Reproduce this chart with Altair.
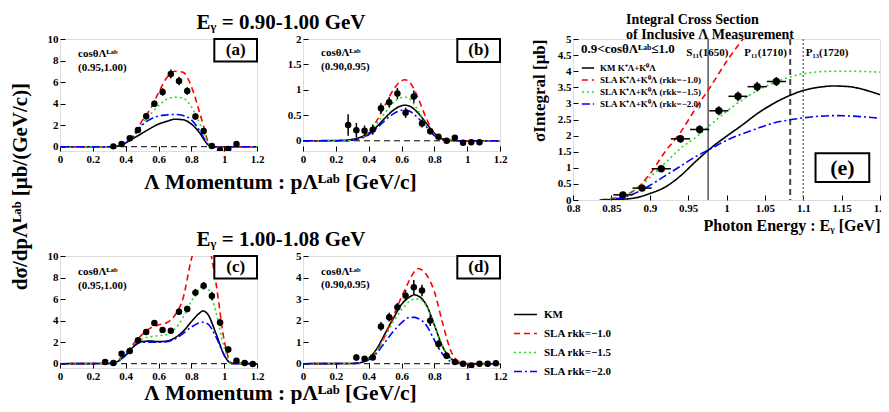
import altair as alt
import pandas as pd

FONT = "Liberation Serif"

MODELS = ["KM", "SLA rkk=−1.0", "SLA rkk=−1.5", "SLA rkk=−2.0"]
MODELS_E = ["KM  K⁺Λ+K⁰Λ", "SLA  K⁺Λ+K⁰Λ (rkk=−1.0)", "SLA  K⁺Λ+K⁰Λ (rkk=−1.5)", "SLA  K⁺Λ+K⁰Λ (rkk=−2.0)"]
COLORS = ["#000000", "#ff0000", "#22dd22", "#0000ff"]
DASHES = [[1, 0], [6, 4], [2, 3], [8, 3, 2, 3]]

# ---------------- panel (a) ----------------
A_BIN = [0.325, 0.375, 0.425, 0.475, 0.525, 0.575, 0.625, 0.675, 0.725, 0.775, 0.825, 0.875, 0.925, 0.975, 1.025, 1.075]
A_VAL = [0.03, 0.25, 0.78, 1.55, 2.83, 3.99, 5.08, 6.76, 6.1, 5.17, 2.8, 1.46, 0.06, -0.34, -0.22, 0.25]
A_ERR = [0.15, 0.2, 0.2, 0.25, 0.3, 0.3, 0.35, 0.4, 0.4, 0.35, 0.3, 0.25, 0.15, 0.15, 0.15, 0.2]
A_CX = [0, 0.3, 0.35, 0.4, 0.45, 0.5, 0.55, 0.6, 0.65, 0.7, 0.75, 0.8, 0.85, 0.88, 0.9, 0.92, 0.95, 1.2]
A_KM = [0, 0, 0.05, 0.35, 0.8, 1.25, 1.7, 2.1, 2.35, 2.55, 2.5, 2.1, 1.3, 0.6, 0.2, 0.02, 0, 0]
A_R10 = [0, 0, 0.05, 0.4, 1.2, 2.4, 3.5, 5.0, 6.4, 7.0, 6.9, 5.6, 3.2, 1.6, 0.5, 0.05, 0, 0]
A_R15 = [0, 0, 0.04, 0.35, 1.1, 2.1, 3.0, 3.8, 4.4, 4.6, 4.5, 3.7, 2.2, 1.1, 0.35, 0.03, 0, 0]
A_R20 = [0, 0, 0.04, 0.35, 1.0, 2.0, 2.55, 2.85, 2.95, 3.0, 2.9, 2.5, 1.5, 0.7, 0.2, 0.02, 0, 0]

# ---------------- panel (b) ----------------
B_BIN = [0.275, 0.325, 0.375, 0.425, 0.475, 0.525, 0.575, 0.625, 0.675, 0.725, 0.775, 0.825, 0.875, 0.925, 0.975, 1.025, 1.075]
B_VAL = [0.31, 0.21, 0.2, 0.22, 0.64, 0.76, 0.93, 0.55, 0.87, 0.34, 0.19, 0.08, 0.0, 0.06, -0.04, -0.03, -0.03]
B_ERR = [0.21, 0.14, 0.1, 0.1, 0.1, 0.1, 0.11, 0.1, 0.12, 0.08, 0.06, 0.04, 0.04, 0.04, 0.04, 0.04, 0.04]
B_CX = [0, 0.25, 0.3, 0.35, 0.4, 0.45, 0.5, 0.55, 0.6, 0.62, 0.65, 0.7, 0.75, 0.8, 0.85, 0.9, 0.95, 1.2]
B_KM = [0, 0.01, 0.03, 0.07, 0.15, 0.28, 0.45, 0.6, 0.69, 0.7, 0.68, 0.55, 0.35, 0.15, 0.04, 0.01, 0, 0]
B_R10 = [0, 0, 0.01, 0.04, 0.15, 0.4, 0.7, 1.0, 1.18, 1.2, 1.15, 0.85, 0.45, 0.15, 0.03, 0, 0, 0]
B_R15 = [0, 0, 0.01, 0.05, 0.15, 0.35, 0.55, 0.75, 0.85, 0.86, 0.82, 0.6, 0.3, 0.1, 0.02, 0, 0, 0]
B_R20 = [0, 0, 0.01, 0.05, 0.12, 0.25, 0.4, 0.53, 0.6, 0.61, 0.58, 0.45, 0.28, 0.1, 0.02, 0, 0, 0]

# ---------------- panel (c) ----------------
C_BIN = [0.275, 0.325, 0.375, 0.425, 0.475, 0.525, 0.575, 0.625, 0.675, 0.725, 0.775, 0.825, 0.875, 0.925, 0.975, 1.025, 1.075, 1.125, 1.175]
C_VAL = [0.15, 0.06, 0.92, 1.17, 2.18, 2.95, 3.78, 3.14, 3.05, 4.83, 5.08, 6.6, 7.23, 6.28, 3.82, 1.32, 0.28, 0.06, -0.03]
C_ERR = [0.15, 0.12, 0.15, 0.2, 0.2, 0.25, 0.25, 0.25, 0.25, 0.3, 0.3, 0.35, 0.35, 0.4, 0.35, 0.3, 0.1, 0.1, 0.1]
C_CX = [0, 0.3, 0.35, 0.4, 0.45, 0.5, 0.55, 0.6, 0.65, 0.7, 0.75, 0.8, 0.85, 0.87, 0.9, 0.95, 1.0, 1.03, 1.05, 1.2]
C_KM = [0, 0.02, 0.2, 0.8, 1.6, 2.05, 2.1, 2.05, 2.1, 2.4, 3.0, 3.9, 4.7, 4.9, 4.6, 2.8, 0.8, 0.15, 0.02, 0]
C_R10 = [0, 0.02, 0.3, 1.0, 1.9, 2.7, 3.3, 3.6, 3.8, 4.5, 6.1, 9.7, 12.0, 12.5, 11.5, 7.5, 2.2, 0.4, 0.05, 0]
C_R15 = [0, 0.02, 0.25, 0.9, 1.8, 2.3, 2.5, 2.6, 2.7, 3.2, 4.3, 5.8, 7.0, 7.2, 7.0, 4.8, 1.5, 0.3, 0.05, 0]
C_R20 = [0, 0.02, 0.2, 0.8, 1.7, 2.0, 2.0, 2.0, 2.05, 2.3, 2.8, 3.4, 3.8, 3.85, 3.7, 2.5, 0.8, 0.15, 0.02, 0]

# ---------------- panel (d) ----------------
D_BIN = [0.325, 0.375, 0.425, 0.475, 0.525, 0.575, 0.625, 0.675, 0.725, 0.775, 0.825, 0.875, 0.925, 0.975, 1.025, 1.075, 1.125, 1.175]
D_VAL = [0.29, 0.23, 0.29, 1.73, 2.16, 2.62, 3.16, 3.55, 3.4, 2.0, 0.91, 0.37, 0.08, 0.0, -0.08, 0.0, 0.0, 0.02]
D_ERR = [0.15, 0.1, 0.1, 0.2, 0.2, 0.2, 0.25, 0.33, 0.27, 0.25, 0.2, 0.15, 0.1, 0.05, 0.05, 0.05, 0.05, 0.05]
D_CX = [0, 0.3, 0.35, 0.4, 0.45, 0.5, 0.55, 0.6, 0.65, 0.68, 0.7, 0.75, 0.8, 0.85, 0.9, 0.95, 1.0, 1.2]
D_KM = [0, 0.01, 0.05, 0.25, 0.7, 1.4, 2.1, 2.75, 3.1, 3.2, 3.15, 2.75, 1.8, 0.8, 0.25, 0.05, 0, 0]
D_R10 = [0, 0.01, 0.05, 0.2, 0.6, 1.3, 2.2, 3.1, 3.9, 4.3, 4.42, 4.15, 3.35, 1.9, 0.6, 0.1, 0.01, 0]
D_R15 = [0, 0.01, 0.05, 0.22, 0.6, 1.25, 1.95, 2.5, 2.9, 3.0, 3.0, 2.7, 1.8, 0.8, 0.25, 0.05, 0, 0]
D_R20 = [0, 0.01, 0.04, 0.18, 0.5, 1.0, 1.5, 1.9, 2.15, 2.15, 2.1, 1.8, 1.1, 0.45, 0.1, 0.02, 0, 0]

# ---------------- panel (e) ----------------
E_X = [0.865, 0.89, 0.915, 0.94, 0.965, 0.99, 1.015, 1.04, 1.065]
E_VAL = [0.16, 0.37, 0.97, 1.9, 2.19, 2.77, 3.22, 3.52, 3.68]
E_ERR = [0.06, 0.07, 0.08, 0.12, 0.13, 0.14, 0.15, 0.15, 0.14]
E_XERR = [0.0125] * 9
E_CX = [0.835, 0.86, 0.88, 0.9, 0.92, 0.94, 0.96, 0.98, 1.0, 1.02, 1.04, 1.06, 1.08, 1.1, 1.12, 1.14, 1.16, 1.18, 1.2]
E_KM = [0, 0.02, 0.06, 0.2, 0.4, 0.75, 1.2, 1.62, 1.98, 2.32, 2.68, 2.98, 3.22, 3.4, 3.5, 3.54, 3.52, 3.42, 3.27]
E_R10 = [0, 0.1, 0.3, 0.8, 1.5, 2.1, 2.85, 3.55, 4.3, 4.95, 5.5, 6.0, 6.5, 7.0, 7.4, 7.8, 8.1, 8.4, 8.6]
E_R15 = [0, 0.1, 0.3, 0.7, 1.15, 1.6, 1.95, 2.35, 2.75, 3.1, 3.4, 3.62, 3.8, 3.92, 3.98, 4.0, 4.0, 3.99, 3.97]
E_R20 = [0, 0.05, 0.2, 0.45, 0.75, 1.05, 1.35, 1.6, 1.85, 2.05, 2.22, 2.38, 2.48, 2.55, 2.6, 2.62, 2.61, 2.58, 2.54]
RES_X = [0.976, 1.083, 1.100]
RES_LABELS = ["S₁₁(1650)", "P₁₁(1710)", "P₁₃(1720)"]
RES_LABEL_X = [0.975, 1.051, 1.131]

X_TICKS_P = [0, 0.2, 0.4, 0.6, 0.8, 1.0, 1.2]
X_TICKS_E = [0.8, 0.85, 0.9, 0.95, 1.0, 1.05, 1.1, 1.15, 1.2]
Y_TICKS_E = [0, 0.5, 1, 1.5, 2, 2.5, 3, 3.5, 4, 4.5, 5]

E_W = 307


def lines_df(x, series, names):
    return pd.DataFrame([{"x": xi, "y": yi, "model": n}
                         for n, ys in zip(names, series) for xi, yi in zip(x, ys)])


def points_df(x, v, e):
    return pd.DataFrame({"x": x, "y": v,
                         "lo": [a - b for a, b in zip(v, e)],
                         "hi": [a + b for a, b in zip(v, e)]})


def axis(values, **kw):
    base = dict(values=values, format=".3~r", labelFont=FONT, labelFontWeight="bold",
                labelFontSize=11, labelColor="black", domain=False, ticks=True,
                tickSize=5, offset=-5, tickColor="black", tickWidth=1, grid=False,
                labelPadding=2, labelFlush=False, labelOverlap=False, title=None,
                titleFont=FONT, titleFontWeight="bold", titleColor="black")
    base.update(kw)
    return alt.Axis(**base)


LEG_MAIN = alt.Legend(title=None, orient="none", legendX=210, legendY=46,
                      symbolType="stroke", symbolSize=529, symbolStrokeWidth=1.6,
                      labelFont=FONT, labelFontWeight="bold", labelFontSize=11,
                      labelColor="black", rowPadding=1, labelOffset=6, padding=0,
                      labelLimit=300)

LEG_E = alt.Legend(title="0.9<cosθΛᴸᵃᵇ≤1.0", orient="none", legendX=8, legendY=4,
                   titleFont=FONT, titleFontWeight="bold", titleFontSize=13,
                   titleColor="black", titleLimit=300, titlePadding=5,
                   symbolType="stroke", symbolSize=150, symbolStrokeWidth=1.6,
                   labelFont=FONT, labelFontWeight="bold", labelFontSize=9,
                   labelColor="black", rowPadding=0, labelOffset=5, padding=0,
                   labelLimit=300)


def dist_panel(tag, cos_rng, bins, vals, errs, cx, series, ydom, yticks,
               txt_y, box_lo, xtitle_y=None, ytitle=None, row_title=None, legend=None):
    xs = alt.Scale(domain=[0, 1.2], nice=False, zero=False)
    ys = alt.Scale(domain=ydom, nice=False, zero=False)
    xkw = {}
    if xtitle_y is not None:
        xkw = dict(title="Λ Momentum : pΛᴸᵃᵇ [GeV/c]", titleX=220, titleY=xtitle_y,
                   titleAlign="center", titleBaseline="alphabetic", titleFontSize=21.5)
    ykw = {}
    if ytitle:
        ykw = dict(title=ytitle, titleX=-45, titleY=147, titleAlign="center",
                   titleBaseline="middle", titleAngle=270, titleFontSize=21)
    xa = axis(X_TICKS_P, **xkw)
    ya = axis(yticks, **ykw)
    X = lambda f: alt.X(f, scale=xs, axis=xa)
    Y = lambda f: alt.Y(f, scale=ys, axis=ya)

    zero = alt.Chart(pd.DataFrame({"x": [0.0], "y": [0.0]})).mark_rule(
        color="black", strokeDash=[6, 4], strokeWidth=1).encode(y=Y("y:Q"))
    curves = alt.Chart(lines_df(cx, series, MODELS)).mark_line(
        clip=True, strokeWidth=1.6, interpolate="monotone").encode(
        x=X("x:Q"), y=Y("y:Q"),
        color=alt.Color("model:N", scale=alt.Scale(domain=MODELS, range=COLORS), legend=legend),
        strokeDash=alt.StrokeDash("model:N", scale=alt.Scale(domain=MODELS, range=DASHES), legend=legend))
    pdf = points_df(bins, vals, errs)
    ebars = alt.Chart(pdf).mark_rule(color="black", strokeWidth=1.5, clip=True).encode(
        x=X("x:Q"), y=Y("lo:Q"), y2="hi:Q")
    pts = alt.Chart(pdf).mark_point(filled=True, size=42, color="black", opacity=1,
                                    shape="circle", clip=True).encode(x=X("x:Q"), y=Y("y:Q"))
    box = alt.Chart(pd.DataFrame({"x": [0.94], "x2": [1.2], "y": [box_lo], "y2": [ydom[1]]})).mark_rect(
        fill="white", stroke="black", strokeWidth=2).encode(x=X("x:Q"), x2="x2:Q", y=Y("y:Q"), y2="y2:Q")
    tagtxt = alt.Chart(pd.DataFrame({"x": [1.07], "y": [(box_lo + ydom[1]) / 2], "t": [tag]})).mark_text(
        font=FONT, fontWeight="bold", fontSize=17, color="black", baseline="middle").encode(
        x=X("x:Q"), y=Y("y:Q"), text="t:N")
    ann = alt.Chart(pd.DataFrame({"x": [0.11, 0.11], "y": txt_y, "t": ["cosθΛᴸᵃᵇ", cos_rng]})).mark_text(
        font=FONT, fontWeight="bold", fontSize=11, color="black", align="left", baseline="middle").encode(
        x=X("x:Q"), y=Y("y:Q"), text="t:N")
    props = dict(width=197, height=112)
    if row_title:
        props["title"] = alt.TitleParams(row_title, font=FONT, fontWeight="bold", fontSize=21,
                                         anchor="start", align="center", dx=221, offset=0,
                                         frame="group", color="black")
    return alt.layer(zero, curves, ebars, pts, box, tagtxt, ann).properties(**props)


pa = dist_panel("(a)", "(0.95,1.00)", A_BIN, A_VAL, A_ERR, A_CX, [A_KM, A_R10, A_R15, A_R20],
                [-0.4, 10], [0, 2, 4, 6, 8, 10], [8.65, 7.35], 7.9, xtitle_y=42,
                ytitle="dσ/dpΛᴸᵃᵇ [μb/(GeV/c)]", row_title="Eᵧ = 0.90-1.00 GeV")
pb = dist_panel("(b)", "(0.90,0.95)", B_BIN, B_VAL, B_ERR, B_CX, [B_KM, B_R10, B_R15, B_R20],
                [-0.2, 2], [0, 0.5, 1, 1.5, 2], [1.73, 1.45], 1.55)
pc = dist_panel("(c)", "(0.95,1.00)", C_BIN, C_VAL, C_ERR, C_CX, [C_KM, C_R10, C_R15, C_R20],
                [-0.4, 10], [0, 2, 4, 6, 8, 10], [8.5, 7.2], 7.9, xtitle_y=36,
                row_title="Eᵧ = 1.00-1.08 GeV")
pd_ = dist_panel("(d)", "(0.90,0.95)", D_BIN, D_VAL, D_ERR, D_CX, [D_KM, D_R10, D_R15, D_R20],
                 [-0.2, 5], [0, 1, 2, 3, 4, 5], [4.27, 3.66], 3.95, legend=LEG_MAIN)

# ---------------- panel (e) ----------------
exs = alt.Scale(domain=[0.8, 1.2], nice=False, zero=False)
eys = alt.Scale(domain=[0, 5], nice=False, zero=False)
exa = axis(X_TICKS_E, title="Photon Energy : Eᵧ [GeV]", titleX=E_W, titleY=35,
           titleAlign="right", titleBaseline="alphabetic", titleFontSize=16)
eya = axis(Y_TICKS_E, title="σIntegral [μb]", titleX=-39, titleY=0, titleAlign="right",
           titleBaseline="middle", titleAngle=270, titleFontSize=17)
EX = lambda f: alt.X(f, scale=exs, axis=exa)
EY = lambda f: alt.Y(f, scale=eys, axis=eya)

res_df = pd.DataFrame({"x": RES_X, "lx": RES_LABEL_X, "t": RES_LABELS, "ly": [4.56, 4.56, 4.56]})
r1 = alt.Chart(res_df.iloc[[0]]).mark_rule(color="black", strokeWidth=1).encode(x=EX("x:Q"))
r2 = alt.Chart(res_df.iloc[[1]]).mark_rule(color="#444444", strokeWidth=2, strokeDash=[6, 4]).encode(x=EX("x:Q"))
r3 = alt.Chart(res_df.iloc[[2]]).mark_rule(color="#777777", strokeWidth=1.5, strokeDash=[2, 2]).encode(x=EX("x:Q"))
rlab = alt.Chart(res_df).mark_text(font=FONT, fontWeight="bold", fontSize=11, color="black",
                                   baseline="middle").encode(x=EX("lx:Q"), y=EY("ly:Q"), text="t:N")
e_curves = alt.Chart(lines_df(E_CX, [E_KM, E_R10, E_R15, E_R20], MODELS_E)).mark_line(
    clip=True, strokeWidth=1.6, interpolate="monotone").encode(
    x=EX("x:Q"), y=EY("y:Q"),
    color=alt.Color("model:N", scale=alt.Scale(domain=MODELS_E, range=COLORS), legend=LEG_E),
    strokeDash=alt.StrokeDash("model:N", scale=alt.Scale(domain=MODELS_E, range=DASHES), legend=LEG_E))
edf = pd.DataFrame({"x": E_X, "y": E_VAL,
                    "lo": [a - b for a, b in zip(E_VAL, E_ERR)], "hi": [a + b for a, b in zip(E_VAL, E_ERR)],
                    "xl": [a - b for a, b in zip(E_X, E_XERR)], "xh": [a + b for a, b in zip(E_X, E_XERR)]})
e_vbar = alt.Chart(edf).mark_rule(color="black", strokeWidth=1.5).encode(x=EX("x:Q"), y=EY("lo:Q"), y2="hi:Q")
e_hbar = alt.Chart(edf).mark_rule(color="black", strokeWidth=1.5).encode(x=EX("xl:Q"), x2="xh:Q", y=EY("y:Q"))
e_pts = alt.Chart(edf).mark_point(filled=True, size=55, color="black", opacity=1, shape="circle").encode(
    x=EX("x:Q"), y=EY("y:Q"))
e_box = alt.Chart(pd.DataFrame({"x": [1.116], "x2": [1.186], "y": [0.56], "y2": [1.45]})).mark_rect(
    fill="white", stroke="black", strokeWidth=2).encode(x=EX("x:Q"), x2="x2:Q", y=EY("y:Q"), y2="y2:Q")
e_tag = alt.Chart(pd.DataFrame({"x": [1.151], "y": [1.0], "t": ["(e)"]})).mark_text(
    font=FONT, fontWeight="bold", fontSize=22, color="black", baseline="middle").encode(
    x=EX("x:Q"), y=EY("y:Q"), text="t:N")

pe = alt.layer(r1, r2, r3, rlab, e_curves, e_vbar, e_hbar, e_pts, e_box, e_tag).properties(
    width=E_W, height=161,
    title=alt.TitleParams(["Integral Cross Section", "of Inclusive Λ Measurement"],
                          font=FONT, fontWeight="bold", fontSize=14, anchor="start",
                          align="left", dx=53, offset=-9, frame="group", color="black",
                          lineHeight=15))


def spacer(w):
    return alt.Chart(pd.DataFrame({"v": [0]})).mark_point(opacity=0).encode(
        x=alt.X("v:Q", axis=None), y=alt.Y("v:Q", axis=None)).properties(
        width=w, height=10, view=alt.ViewBackground(stroke=None))


chart = alt.concat(pa, spacer(46), pb, spacer(73), pe,
                   pc, spacer(46), pd_,
                   columns=5, spacing={"row": 56, "column": 0}, bounds="flush").resolve_scale(
    color="independent", strokeDash="independent").properties(
    padding={"left": 0, "top": 3, "right": -7, "bottom": 0}).configure_view(
    stroke="black", strokeWidth=2).configure(background="white")

chart.save("out.html", embed_options={"renderer": "svg", "actions": False})
